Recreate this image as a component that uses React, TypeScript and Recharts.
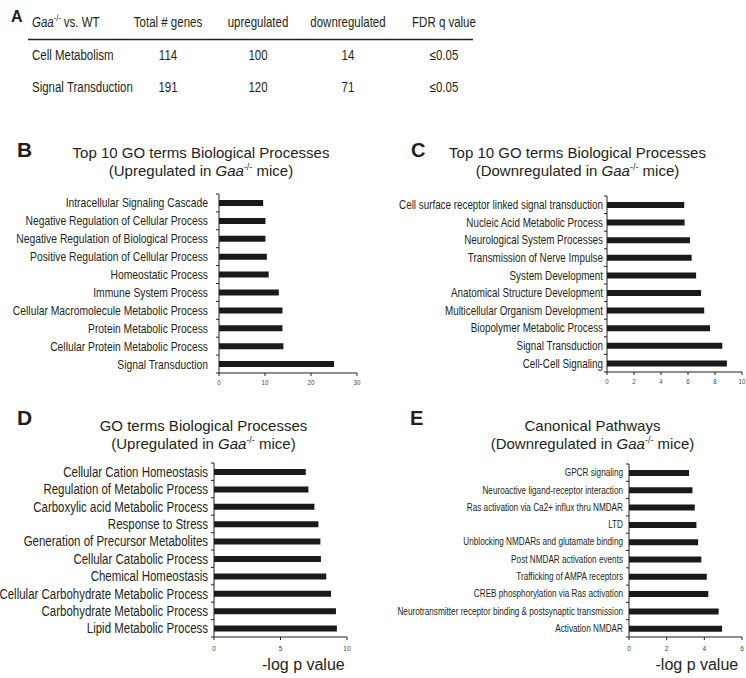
import React from "react";
import { Bar, BarChart, XAxis, YAxis } from "recharts";

const SANS = "'Liberation Sans', Arial, sans-serif";
const INK = "#231f20";
const NARROW_SCALE = 0.82; // no narrow face installed, squeeze Liberation Sans instead

// panel A: summary table
const tableCorner = "vs. WT";
const tableHeaders = ["Total # genes", "upregulated", "downregulated", "FDR q value"];
const tableRows = ["Cell Metabolism", "Signal Transduction"];
const totalGenes = [114, 191];
const upGenes = [100, 120];
const downGenes = [14, 71];
const fdrValues = ["≤0.05", "≤0.05"];

// panel B: top 10 GO terms, upregulated
const bTerms = [
  "Intracellular Signaling Cascade",
  "Negative Regulation of Cellular Process",
  "Negative Regulation of Biological Process",
  "Positive Regulation of Cellular Process",
  "Homeostatic Process",
  "Immune System Process",
  "Cellular Macromolecule Metabolic Process",
  "Protein Metabolic Process",
  "Cellular Protein Metabolic Process",
  "Signal Transduction",
];
const bValues = [9.6, 10.1, 10.1, 10.4, 10.8, 13.0, 13.8, 13.8, 14.0, 25.0];
const bTicks = [0, 10, 20, 30];

// panel C: top 10 GO terms, downregulated
const cTerms = [
  "Cell surface receptor linked signal transduction",
  "Nucleic Acid Metabolic Process",
  "Neurological System Processes",
  "Transmission of Nerve Impulse",
  "System Development",
  "Anatomical Structure Development",
  "Multicellular Organism Development",
  "Biopolymer Metabolic Process",
  "Signal Transduction",
  "Cell-Cell Signaling",
];
const cValues = [5.72, 5.75, 6.15, 6.27, 6.6, 6.97, 7.2, 7.64, 8.54, 8.88];
const cTicks = [0, 2, 4, 6, 8, 10];

// panel D: GO terms, upregulated
const dTerms = [
  "Cellular Cation Homeostasis",
  "Regulation of Metabolic Process",
  "Carboxylic acid Metabolic Process",
  "Response to Stress",
  "Generation of Precursor Metabolites",
  "Cellular Catabolic Process",
  "Chemical Homeostasis",
  "Cellular Carbohydrate Metabolic Process",
  "Carbohydrate Metabolic Process",
  "Lipid Metabolic Process",
];
const dValues = [6.9, 7.1, 7.55, 7.85, 8.0, 8.04, 8.44, 8.8, 9.17, 9.24];
const dTicks = [0, 5, 10];

// panel E: canonical pathways, downregulated
const eTerms = [
  "GPCR signaling",
  "Neuroactive ligand-receptor interaction",
  "Ras activation via Ca2+ influx thru NMDAR",
  "LTD",
  "Unblocking NMDARs and glutamate binding",
  "Post NMDAR activation events",
  "Trafficking of AMPA receptors",
  "CREB phosphorylation via Ras activation",
  "Neurotransmitter receptor binding & postsynaptic transmission",
  "Activation NMDAR",
];
const eValues = [3.19, 3.37, 3.49, 3.58, 3.67, 3.84, 4.13, 4.21, 4.76, 4.94];
const eTicks = [0, 2, 4, 6];

function NText(props: {
  x: number;
  y: number;
  size: number;
  anchor?: "start" | "middle" | "end";
  dy?: string;
  fill?: string;
  children: React.ReactNode;
}) {
  return (
    <text
      transform={`translate(${props.x},${props.y}) scale(${NARROW_SCALE},1)`}
      textAnchor={props.anchor || "start"}
      dy={props.dy}
      fontSize={props.size}
      fontFamily={SANS}
      fill={props.fill || INK}
    >
      {props.children}
    </text>
  );
}

type PanelProps = {
  terms: string[];
  values: number[];
  ticks: number[];
  left: number;
  top: number;
  width: number;
  height: number;
  margin: { top: number; right: number; bottom: number; left: number };
  axisWidth: number;
  xAxisHeight: number;
  labelSize: number;
  labelGap: number;
  tickFont: number;
  tickMargin: number;
};

function GoBars(p: PanelProps) {
  const data = p.terms.map((name, i) => ({ name, value: p.values[i] }));
  const plotH = p.height - p.margin.top - p.margin.bottom - p.xAxisHeight;
  const band = plotH / data.length;

  // label plus a small tick at the band boundaries
  const renderTick = (props: any) => {
    const { x, y, payload } = props;
    const idx = p.terms.indexOf(payload.value);
    const ax = x + p.labelGap;
    return (
      <g>
        <line x1={ax - 3} x2={ax} y1={y - band / 2} y2={y - band / 2} stroke={INK} strokeWidth={1} />
        {idx === data.length - 1 && (
          <line x1={ax - 3} x2={ax} y1={y + band / 2} y2={y + band / 2} stroke={INK} strokeWidth={1} />
        )}
        <NText x={x} y={y} dy="0.36em" anchor="end" size={p.labelSize}>
          {payload.value}
        </NText>
      </g>
    );
  };

  const renderXTick = (props: any) => {
    const { x, y, payload } = props;
    return (
      <NText x={x} y={y} dy="0.71em" anchor="middle" size={p.tickFont} fill="#444">
        {payload.value}
      </NText>
    );
  };

  return (
    <div style={{ position: "absolute", left: p.left, top: p.top }}>
      <BarChart width={p.width} height={p.height} layout="vertical" data={data} margin={p.margin}>
        <XAxis
          type="number"
          domain={[0, p.ticks[p.ticks.length - 1]]}
          ticks={p.ticks}
          interval={0}
          height={p.xAxisHeight}
          tickSize={3}
          tickMargin={p.tickMargin}
          stroke={INK}
          tick={renderXTick}
        />
        <YAxis
          type="category"
          dataKey="name"
          width={p.axisWidth}
          interval={0}
          tickLine={false}
          tickSize={0}
          tickMargin={p.labelGap}
          stroke={INK}
          tick={renderTick}
        />
        <Bar dataKey="value" fill="#1a1a1a" barSize={6} isAnimationActive={false} />
      </BarChart>
    </div>
  );
}

function Gaa() {
  return (
    <>
      <tspan fontStyle="italic">Gaa</tspan>
      <tspan fontSize={9} dy={-6}>-/-</tspan>
    </>
  );
}

export default function App() {
  const colX = [168, 258, 348, 444];
  const rowY = [59.5, 92];
  return (
    <div
      style={{
        position: "absolute",
        left: 0,
        top: 0,
        width: 746,
        height: 678,
        background: "#fff",
        overflow: "hidden",
      }}
    >
      <GoBars
        terms={bTerms}
        values={bValues}
        ticks={bTicks}
        left={0}
        top={180}
        width={373}
        height={220}
        margin={{ top: 14, right: 16, bottom: 7, left: 0 }}
        axisWidth={219}
        xAxisHeight={20}
        labelSize={12.6}
        labelGap={11}
        tickFont={7.5}
        tickMargin={4}
      />
      <GoBars
        terms={cTerms}
        values={cValues}
        ticks={cTicks}
        left={373}
        top={180}
        width={373}
        height={220}
        margin={{ top: 16, right: 4, bottom: 8, left: 0 }}
        axisWidth={234}
        xAxisHeight={20}
        labelSize={12}
        labelGap={4}
        tickFont={7.5}
        tickMargin={4}
      />
      <GoBars
        terms={dTerms}
        values={dValues}
        ticks={dTicks}
        left={0}
        top={450}
        width={373}
        height={210}
        margin={{ top: 13, right: 26, bottom: 5, left: 0 }}
        axisWidth={214}
        xAxisHeight={18}
        labelSize={14}
        labelGap={6}
        tickFont={8}
        tickMargin={5.5}
      />
      <GoBars
        terms={eTerms}
        values={eValues}
        ticks={eTicks}
        left={373}
        top={450}
        width={373}
        height={210}
        margin={{ top: 14, right: 4, bottom: 5, left: 0 }}
        axisWidth={256}
        xAxisHeight={18}
        labelSize={10}
        labelGap={6}
        tickFont={8}
        tickMargin={5.5}
      />

      <svg
        width={746}
        height={678}
        style={{ position: "absolute", left: 0, top: 0, pointerEvents: "none" }}
      >
        {/* panel letters */}
        <g fontFamily={SANS} fontWeight="bold" fill={INK}>
          <text x={11} y={22} fontSize={16}>A</text>
          <text x={17} y={157} fontSize={21}>B</text>
          <text x={411} y={157} fontSize={20}>C</text>
          <text x={17} y={425} fontSize={21}>D</text>
          <text x={410} y={425} fontSize={20}>E</text>
        </g>

        {/* table */}
        <NText x={32} y={27} size={14}>
          <Gaa />
          <tspan dy={6}> {tableCorner}</tspan>
        </NText>
        {tableHeaders.map((h, i) => (
          <NText key={h} x={colX[i]} y={27} size={14} anchor="middle">
            {h}
          </NText>
        ))}
        <line x1={28} x2={473} y1={39.5} y2={39.5} stroke={INK} strokeWidth={1.6} />
        {tableRows.map((r, i) => (
          <g key={r}>
            <NText x={32} y={rowY[i]} size={14}>{r}</NText>
            <NText x={colX[0]} y={rowY[i]} size={14} anchor="middle">{totalGenes[i]}</NText>
            <NText x={colX[1]} y={rowY[i]} size={14} anchor="middle">{upGenes[i]}</NText>
            <NText x={colX[2]} y={rowY[i]} size={14} anchor="middle">{downGenes[i]}</NText>
            <NText x={colX[3]} y={rowY[i]} size={14} anchor="middle">{fdrValues[i]}</NText>
          </g>
        ))}

        {/* titles */}
        <g fontFamily={SANS} fontSize={15} fill={INK} textAnchor="middle">
          <text x={201} y={158}>Top 10 GO terms Biological Processes</text>
          <text x={201} y={176}>
            (Upregulated in <Gaa />
            <tspan dy={6}> mice)</tspan>
          </text>
          <text x={577.5} y={158}>Top 10 GO terms Biological Processes</text>
          <text x={577.5} y={176}>
            (Downregulated in <Gaa />
            <tspan dy={6}> mice)</tspan>
          </text>
          <text x={203.5} y={431}>GO terms Biological Processes</text>
          <text x={203.5} y={448.5}>
            (Upregulated in <Gaa />
            <tspan dy={6}> mice)</tspan>
          </text>
          <text x={592.5} y={431}>Canonical Pathways</text>
          <text x={592.5} y={448.5}>
            (Downregulated in <Gaa />
            <tspan dy={6}> mice)</tspan>
          </text>
        </g>

        {/* x-axis titles */}
        <g fontFamily={SANS} fontSize={16} fill={INK}>
          <text x={262} y={670}>-log p value</text>
          <text x={655.5} y={670}>-log p value</text>
        </g>
      </svg>
    </div>
  );
}
